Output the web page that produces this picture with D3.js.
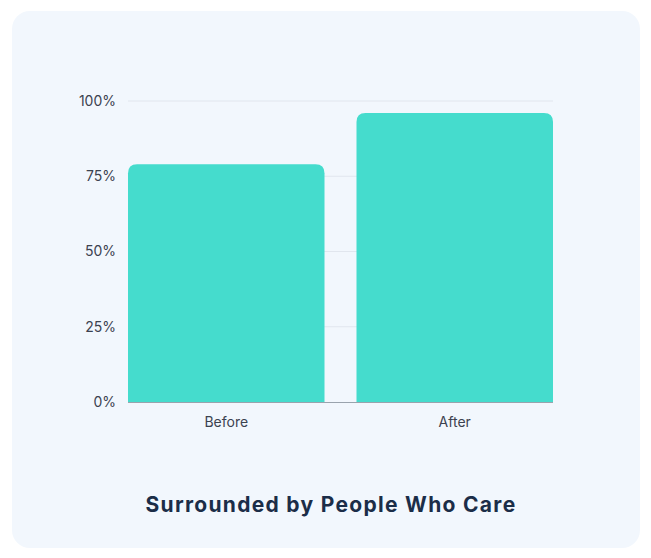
<!DOCTYPE html>
<html>
<head>
<meta charset="utf-8">
<script src="https://cdn.jsdelivr.net/npm/d3@7"></script>
<style>
  html, body { margin: 0; padding: 0; background: #ffffff; }
  svg { display: block; }
</style>
</head>
<body>
<svg id="chart" width="651" height="558"></svg>
<script>
// Chart data
const categories = ["Before", "After"];
const values = [79, 96];
const tickValues = [0, 25, 50, 75, 100];
const title = "Surrounded by People Who Care";

const W = 651, H = 558;
const svg = d3.select("#chart");

// Card background
svg.append("rect")
  .attr("x", 12).attr("y", 11)
  .attr("width", 628).attr("height", 537)
  .attr("rx", 18)
  .attr("fill", "#f2f7fd");

const plot = { left: 128, right: 553, top: 101, bottom: 402 };

const x = d3.scaleBand()
  .domain(categories)
  .range([plot.left, plot.right])
  .paddingInner(0.14)
  .paddingOuter(0);

const y = d3.scaleLinear()
  .domain([0, 100])
  .range([plot.bottom, plot.top]);

// Gridlines
svg.append("g")
  .selectAll("line")
  .data(tickValues.filter(d => d > 0))
  .join("line")
  .attr("x1", plot.left).attr("x2", plot.right)
  .attr("y1", d => y(d)).attr("y2", d => y(d))
  .attr("stroke", "#e1e6ee")
  .attr("stroke-width", 1);

// Y axis labels
const yAxis = d3.axisLeft(y)
  .tickValues(tickValues)
  .tickFormat(d => d + "%")
  .tickSize(0)
  .tickPadding(12);
const yg = svg.append("g")
  .attr("transform", `translate(${plot.left},0)`)
  .call(yAxis);
yg.select(".domain").remove();
yg.selectAll("text")
  .attr("font-family", "Inter, 'Open Sans', sans-serif")
  .attr("font-size", 14)
  .attr("fill", "#3c4250");

// Bars with rounded top corners
const r = 9;
function topRounded(x0, y0, w, h, rr) {
  const rad = Math.min(rr, h, w / 2);
  return `M${x0},${y0 + h}` +
    `V${y0 + rad}` +
    `Q${x0},${y0} ${x0 + rad},${y0}` +
    `H${x0 + w - rad}` +
    `Q${x0 + w},${y0} ${x0 + w},${y0 + rad}` +
    `V${y0 + h}Z`;
}
svg.append("g")
  .selectAll("path")
  .data(categories.map((c, i) => ({ c, v: values[i] })))
  .join("path")
  .attr("d", d => topRounded(x(d.c), y(d.v), x.bandwidth(), y(0) - y(d.v), r))
  .attr("fill", "#45dccd");

// Baseline
svg.append("line")
  .attr("x1", plot.left).attr("x2", plot.right)
  .attr("y1", y(0) + 0.5).attr("y2", y(0) + 0.5)
  .attr("stroke", "#9aa3ad")
  .attr("stroke-width", 1);

// X axis labels
const xAxis = d3.axisBottom(x).tickSize(0).tickPadding(15);
const xg = svg.append("g")
  .attr("transform", `translate(0,${plot.bottom})`)
  .call(xAxis);
xg.select(".domain").remove();
xg.selectAll("text")
  .attr("font-family", "Inter, 'Open Sans', sans-serif")
  .attr("font-size", 14)
  .attr("fill", "#3c4250");

// Title
svg.append("text")
  .attr("x", 331)
  .attr("y", 512)
  .attr("text-anchor", "middle")
  .attr("font-family", "Inter, 'Open Sans', sans-serif")
  .attr("font-weight", 700)
  .attr("font-size", 21)
  .attr("letter-spacing", 1.3)
  .attr("fill", "#1b2d48")
  .text(title);
</script>
</body>
</html>
